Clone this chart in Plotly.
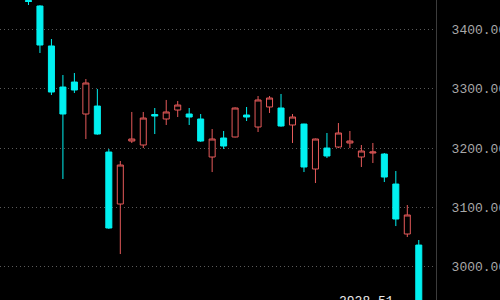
import plotly.graph_objects as go

idx = list(range(35))
open_ = [3448.5, 3439.2, 3371.9, 3302.8, 3311.2, 3257.4, 3270.8, 3193.4, 3105.9, 3211.9,
         3205.2, 3256.5, 3249.0, 3264.1, 3257.4, 3249.0, 3185.0, 3217.0, 3218.7, 3255.7,
         3235.5, 3269.2, 3267.5, 3238.9, 3240.5, 3164.8, 3200.1, 3201.8, 3208.6, 3185.0,
         3191.7, 3190.0, 3139.5, 3055.4, 3036.8]
high = [3459.4, 3440.5, 3383.6, 3323.0, 3326.4, 3316.3, 3299.5, 3198.5, 3178.3, 3260.8,
        3260.8, 3267.5, 3281.0, 3279.3, 3267.5, 3257.4, 3232.1, 3228.8, 3268.5, 3269.2,
        3287.7, 3287.7, 3291.1, 3257.4, 3241.0, 3216.0, 3225.4, 3242.2, 3228.8, 3205.2,
        3208.6, 3191.7, 3161.4, 3104.2, 3045.3]
low = [3440.9, 3360.1, 3289.4, 3148.0, 3292.7, 3215.3, 3222.5, 3064.0, 3021.7, 3208.6,
       3200.1, 3223.7, 3238.9, 3252.3, 3238.9, 3210.5, 3159.7, 3198.5, 3218.0, 3245.6,
       3227.1, 3259.1, 3236.0, 3208.6, 3159.7, 3141.2, 3183.3, 3200.1, 3200.1, 3168.2,
       3174.9, 3142.9, 3068.8, 3050.3, 2928.51]
close = [3446.8, 3373.5, 3294.4, 3257.4, 3297.8, 3309.6, 3223.7, 3065.5, 3171.5, 3215.3,
         3250.6, 3254.0, 3260.8, 3272.5, 3252.3, 3211.9, 3215.3, 3203.5, 3267.5, 3252.3,
         3281.0, 3284.3, 3237.2, 3252.3, 3168.2, 3215.3, 3186.7, 3225.4, 3211.9, 3195.1,
         3193.4, 3151.3, 3080.6, 3087.4, 2938.0]
tick_vals = [3000, 3100, 3200, 3300, 3400]
low_label = "2928.51"

RED = "#e65a5a"
CYAN = "#00f0f0"

fig = go.Figure()
fig.add_trace(go.Candlestick(
    x=idx, open=open_, high=high, low=low, close=close,
    increasing=dict(line=dict(color=RED, width=1), fillcolor="#000000"),
    decreasing=dict(line=dict(color=CYAN, width=1), fillcolor=CYAN),
    whiskerwidth=0, hoverinfo="skip",
))

fig.add_annotation(
    x=idx[-1], xref="x", y=0, yref="paper",
    text=low_label, showarrow=False,
    xanchor="right", yanchor="top", xshift=-23, yshift=8,
    font=dict(family="Liberation Mono", size=13, color="#e8e8e8"),
)

fig.update_layout(
    width=500, height=300,
    margin=dict(l=0, r=64, t=0, b=0, autoexpand=False),
    paper_bgcolor="#000000", plot_bgcolor="#000000",
    showlegend=False, boxgap=0.25,
    xaxis=dict(range=[-2.48, 35.5], visible=False, rangeslider=dict(visible=False),
               fixedrange=True, automargin=False),
    yaxis=dict(range=[2944.3, 3449.3], side="right", tickvals=tick_vals,
               tickformat=".2f", showgrid=True, gridcolor="#5a5a5a",
               griddash="1px,3px", gridwidth=1, zeroline=False,
               showline=True, linecolor="#3c3c3c", linewidth=1,
               ticks="", ticklabelstandoff=12, automargin=False,
               tickfont=dict(family="Liberation Mono", size=13, color="#a8a8a8")),
)

fig.write_html("out.html")
